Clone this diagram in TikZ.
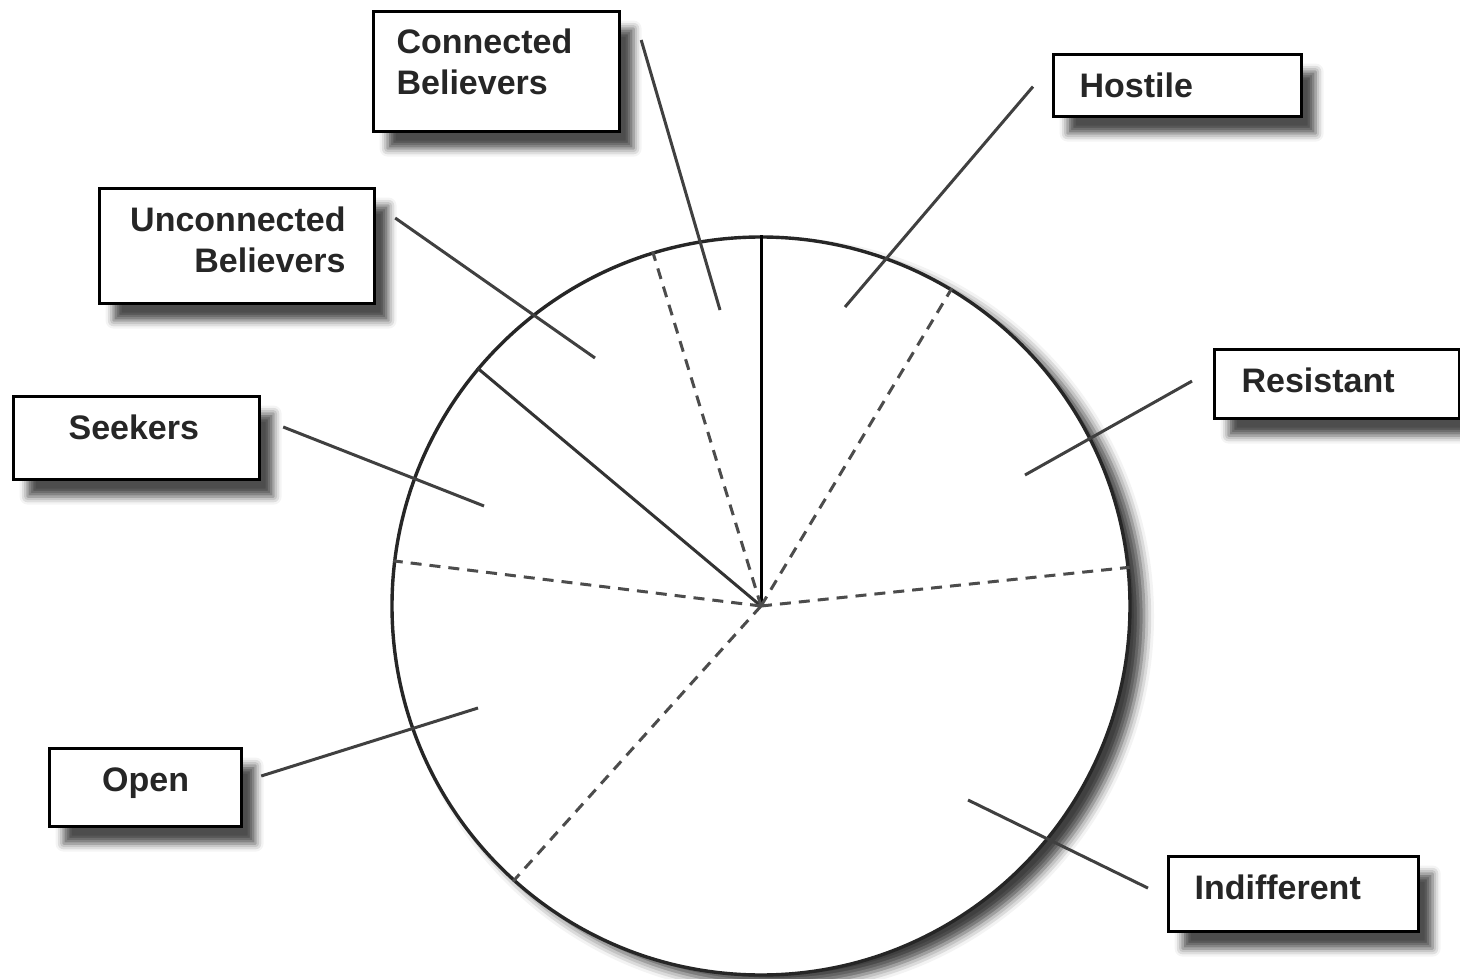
\documentclass[tikz,border=0pt]{standalone}
\usepackage{fontspec}
\setmainfont{Liberation Sans}
\usetikzlibrary{calc, shadows, shadows.blur}
\newcommand\segfont{\bfseries\fontsize{34pt}{41pt}\selectfont}

\begin{document}
\begin{tikzpicture}[x=1pt, y=-1pt,
  box/.style = {draw, line width=3.2pt, fill=white, text=black!85, font=\segfont, anchor=north west, inner ysep=0pt, text height=25pt,
    blur shadow={shadow xshift=14pt, shadow yshift=-17pt, shadow blur radius=8pt, shadow opacity=70}},
  pie/.style = {draw=black!85, circle, line width=3.4pt, fill=white, minimum size=738pt, inner sep=0pt,
    blur shadow={shadow xshift=14pt, shadow yshift=-10pt, shadow blur radius=10pt, shadow opacity=75}},
  spoke/.style = {line width=3pt},
  divider/.style = {line width=3pt, black!70, dash pattern=on 11pt off 8pt},
  leader/.style = {line width=3pt, black!75}]
\useasboundingbox (0,0) rectangle (1460,979);

% the pie
\node[pie] (pie) at (761,606) {};
\draw[spoke] (pie.center) -- (pie.90);
\draw[spoke, black!80] (pie.center) -- (pie.140);
\draw[divider] (pie.center) -- (pie.107);
\draw[divider] (pie.center) -- (pie.173);
\draw[divider] (pie.center) -- (pie.228.6);
\draw[divider] (pie.center) -- (pie.6.8);
\draw[divider] (pie.center) -- (pie.59);

% labels
\node[box, minimum width=246pt, minimum height=120pt, inner xsep=23pt, text width=200pt, align=left, text depth=61pt] (connected) at (372,10) {Connected\\Believers};
\node[box, minimum width=275pt, minimum height=115pt, inner xsep=29pt, text width=217pt, align=right, text depth=54pt] (unconnected) at (98,187) {Unconnected\\Believers};
\node[box, minimum width=248pt, minimum height=62pt, inner xsep=26pt, text width=196pt, align=left, text depth=1pt] (hostile) at (1052,53) {Hostile};
\node[box, minimum width=245pt, minimum height=69pt, inner xsep=27pt, text width=191pt, align=left, text depth=8pt] (resistant) at (1213,348) {Resistant};
\node[box, minimum width=246pt, minimum height=83pt, inner xsep=55pt, text width=136pt, align=left, text depth=22pt] (seekers) at (12,395) {Seekers};
\node[box, minimum width=192pt, minimum height=78pt, inner xsep=20pt, text width=152pt, align=center, text depth=17pt] (open) at (48,747) {Open};
\node[box, minimum width=250pt, minimum height=75pt, inner xsep=26pt, text width=198pt, align=left, text depth=14pt] (indifferent) at (1167,855) {Indifferent};

% leader lines
\coordinate (connectedPt) at (720,310);
\coordinate (unconnectedPt) at (595,358);
\coordinate (hostilePt) at (845,307);
\coordinate (resistantPt) at (1025,475);
\coordinate (seekersPt) at (484,506);
\coordinate (openPt) at (478,708);
\coordinate (indifferentPt) at (968,800);
\draw[leader] ($(connected.north east)+(20,30)$) -- (connectedPt);
\draw[leader] ($(unconnected.north east)+(19,31)$) -- (unconnectedPt);
\draw[leader] ($(hostile.west)+(-19,1)$) -- (hostilePt);
\draw[leader] ($(resistant.west)+(-21,-3)$) -- (resistantPt);
\draw[leader] ($(seekers.north east)+(22,32)$) -- (seekersPt);
\draw[leader] ($(open.north east)+(18,29)$) -- (openPt);
\draw[leader] ($(indifferent.west)+(-19,-6)$) -- (indifferentPt);
\end{tikzpicture}
\end{document}
